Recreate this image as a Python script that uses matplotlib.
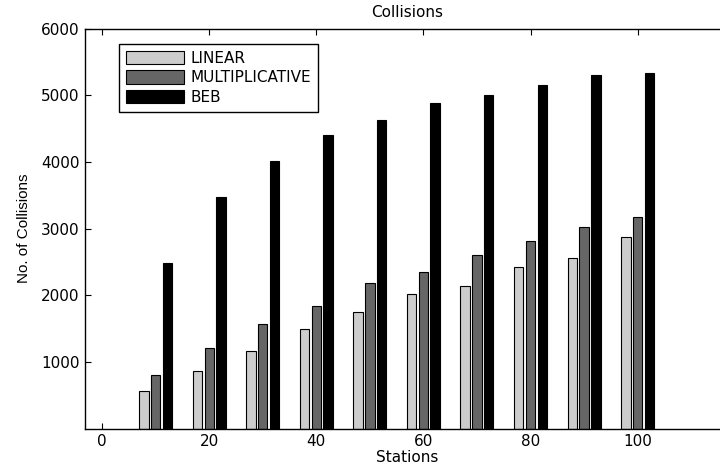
import numpy as np
import matplotlib.pyplot as plt

plt.rcParams['font.family'] = ['DejaVu Sans']

stations = [10, 20, 30, 40, 50, 60, 70, 80, 90, 100]
linear = [565, 868, 1160, 1490, 1745, 2015, 2145, 2421, 2561, 2872]
multiplicative = [800, 1213, 1565, 1845, 2180, 2350, 2610, 2820, 3016, 3177]
beb = [2485, 3472, 4017, 4408, 4623, 4878, 5009, 5149, 5307, 5333]

series = [("LINEAR", linear, "#cccccc"),
          ("MULTIPLICATIVE", multiplicative, "#666666"),
          ("BEB", beb, "#000000")]

fig = plt.figure(figsize=(7.2, 4.67), dpi=100)
ax = fig.add_axes([0.118, 0.0824, 0.894, 0.8565])

x = np.array(stations, dtype=float)
offset = 2.2
width = 1.75
for i, (name, vals, col) in enumerate(series):
    ax.bar(x + (i - 1) * offset, vals, width=width, color=col,
           edgecolor="black", linewidth=0.8, label=name, zorder=2)

ax.set_xlim(-3.2, 117)
ax.set_ylim(0, 6000)
ax.set_xticks([0, 20, 40, 60, 80, 100])
ax.set_yticks([1000, 2000, 3000, 4000, 5000, 6000])
ax.tick_params(direction="in", length=4, width=0.8, top=True, right=True,
               labelsize=11, pad=4, colors="black")
ax.spines["right"].set_visible(False)
for s in ax.spines.values():
    s.set_linewidth(1.0)

ax.set_title("Collisions", fontsize=11, pad=8)
ax.set_xlabel("Stations", fontsize=11, labelpad=1)
ax.set_ylabel("No. of Collisions", fontsize=11, family="Liberation Sans", labelpad=7)

leg = ax.legend(loc="upper left", bbox_to_anchor=(0.053, 0.962), fontsize=11,
                handlelength=3.8, handleheight=0.95, labelspacing=0.3,
                handletextpad=0.4, borderpad=0.45, borderaxespad=0,
                fancybox=False, framealpha=1, edgecolor="black")
leg.get_frame().set_linewidth(1.0)

fig.savefig("out.png", dpi=100)
